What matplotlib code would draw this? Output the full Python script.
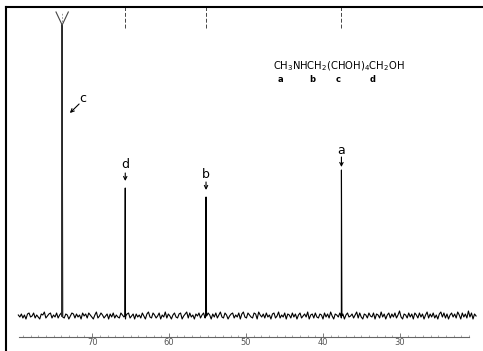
import numpy as np
import matplotlib
matplotlib.use('Agg')
import matplotlib.pyplot as plt

# ── Data (ppm / intensity, baseline = 0) ─────────────────────
peak_labels = ['c', 'd', 'b', 'a']
peak_ppm = [73.9, 65.7, 55.2, 37.6]
peak_height = [291, 128, 119, 146]

# c peak overflows: fork at top of the trace
c_fork_ppm = [74.7, 73.9, 73.1]
c_fork_top = [304, 304, 304]

# baseline noise (left -> right)
noise = [1, -1, 2, -2, 1, -3, 2, 3, -1, 0, 3, -2, 1, -1, -3, 2, 1, 4, -2, 0,
         2, 3, -2, 1, -1, 3, -2, 1, 3, -1, -2, 2, 1, -3, 0, 3, 2, -2, 2, -1,
         1, -3, 3, 0, 2, -2, 3, 1, -1, -3, 1, 4, -2, 0, 3, 1, -2, 0, 2, -3,
         2, -1, 3, -2, 1, -1, -2, 3, 1, -1, -3, 2, 3, -2, 0, 2, -3, 2, -1, 1,
         -2, 3, 0, -3, 2, 4, -1, -2, 3, 1, -2, 0, 3, -3, 1, -1, 4, -2, 2, 0,
         -3, 1, 3, -1, -2, 2, 3, -3, 0, 2, 4, -2, 3, -1, 1, -3, 2, 0, 3, -2,
         1, 3, -2, 0, 3, 1, -3, 2, -1, 3, -2, 1, 4, -1, -2, 3, 1, -3, 0, 2,
         3, -2, 1, -1, 3, -3, 2, 4, -1, -2, 3, 1, -1, -2, 3, 2, -3, 4, 1, -1,
         2, -2, 3, -1, 1, -3, 2, 3, -2, 0, 4, -2, 1, -1, 3, -3, 2, 1, -2, 3,
         -1, 2, -3, 1, 3, -2, 0, 2, -1, 4, -3, 1, 2, -2, 3, -1, -2, 2, 1, -3,
         3, -1, 2, -2, 4, 0, -3, 2, 1, -1, 3, -2, 2, -3, 1, 3, -1, 0, 2, -2,
         1, 4, -2, 3, -1, -3, 2, 1, -2, 3, 0, -1, 3, -3, 2, 1, -2, 4, -1, 2,
         -3, 1, 3, -2, 2, -1, 3, -2, 1, 5, -1, -3, 2, 1, -2, 3, -1, 2, -3, 3,
         1, -2, 3, -1, 2, -3, 1, 4, -2, 2, -1, 3, -2, 1, -3, 2, 4, -1, 3, -2,
         2, -3, 1, 3, -1, 2, -2, 4, 1, -3, 3, -1, 2, -2, 5, -1, 3, -3, 2, 0]
noise_start, noise_end = 79.6, 20.1

formula = r'CH$_3$NHCH$_2$(CHOH)$_4$CH$_2$OH'
formula_letters = ['a', 'b', 'c', 'd']
formula_letter_ppm = [45.5, 41.4, 38.0, 33.5]

tick_values = [70, 60, 50, 40, 30]

# ── Build the trace ──────────────────────────────────────────
x = list(np.linspace(noise_start, noise_end, len(noise)))
y = list(noise)
for p, h in zip(peak_ppm, peak_height):
    x += [p + 0.06, p, p - 0.06]
    y += [0, h, 0]
order = np.argsort(-np.array(x), kind='stable')
x = np.array(x)[order]
y = np.array(y)[order]

# ── Plot ─────────────────────────────────────────────────────
fig = plt.figure(figsize=(4.83, 3.51), dpi=100)
ax = fig.add_axes([6 / 483, 0, 1 - 6 / 483, 344 / 351])
ax.set_xlim(81.2, 19.2)
ax.set_ylim(-35, 309)

ax.plot(x, y, color='black', lw=0.8)
ax.plot(c_fork_ppm, [c_fork_top[0], peak_height[0], c_fork_top[2]], color='#444', lw=0.8)
ax.plot([c_fork_ppm[1]] * 2, [peak_height[0], c_fork_top[1]], color='#888', lw=0.6, ls=(0, (2, 2)))
ax.plot([peak_ppm[0]] * 2, [0, peak_height[0]], color='#333', lw=1.2)

# dashed marks at top
for p in peak_ppm[1:]:
    ax.plot([p, p], [288, 309], color='#444', lw=0.7, ls=(0, (4, 2)))

# peak labels with arrows: (text offset, arrow tail, arrow head) above peak top
label_offsets = {'d': (23, 15, 7), 'b': (22, 15, 7), 'a': (20, 13, 3)}
for lab, p, h in zip(peak_labels, peak_ppm, peak_height):
    if lab == 'c':
        ax.text(71.2, 218, 'c', fontsize=9, ha='center', va='center')
        ax.annotate('', xy=(72.9, 203), xytext=(71.7, 212),
                    arrowprops=dict(arrowstyle='->', lw=0.8, color='black',
                                    shrinkA=0, shrinkB=0, mutation_scale=6))
        continue
    dt, tail, head = label_offsets[lab]
    ax.text(p, h + dt, lab, fontsize=9, ha='center', va='center')
    ax.annotate('', xy=(p, h + head), xytext=(p, h + tail),
                arrowprops=dict(arrowstyle='->', lw=0.8, color='black',
                                shrinkA=0, shrinkB=0, mutation_scale=6))

ax.text(37.9, 250, formula, fontsize=7.2, ha='center', va='center')
for lab, p in zip(formula_letters, formula_letter_ppm):
    ax.text(p, 236, lab, fontsize=6, fontweight='bold', ha='center', va='center')

# spines / scale
ax.spines['right'].set_visible(False)
ax.spines['top'].set_linewidth(1.5)
ax.spines['left'].set_linewidth(1.5)
ax.spines['bottom'].set_position(('data', -21))
ax.spines['bottom'].set_bounds(79.5, 21.0)
ax.spines['bottom'].set_color('#666')
ax.spines['bottom'].set_linewidth(0.8)
ax.set_yticks([])
ax.set_xticks(tick_values)
ax.set_xticks(np.arange(21, 80, 1), minor=True)
ax.tick_params(axis='x', which='major', direction='in', length=3, width=0.6,
               color='#666', labelsize=6, labelcolor='#555', pad=1)
ax.tick_params(axis='x', which='minor', direction='in', length=1.5, width=0.5, color='#888')

fig.savefig('out.png', dpi=100)
